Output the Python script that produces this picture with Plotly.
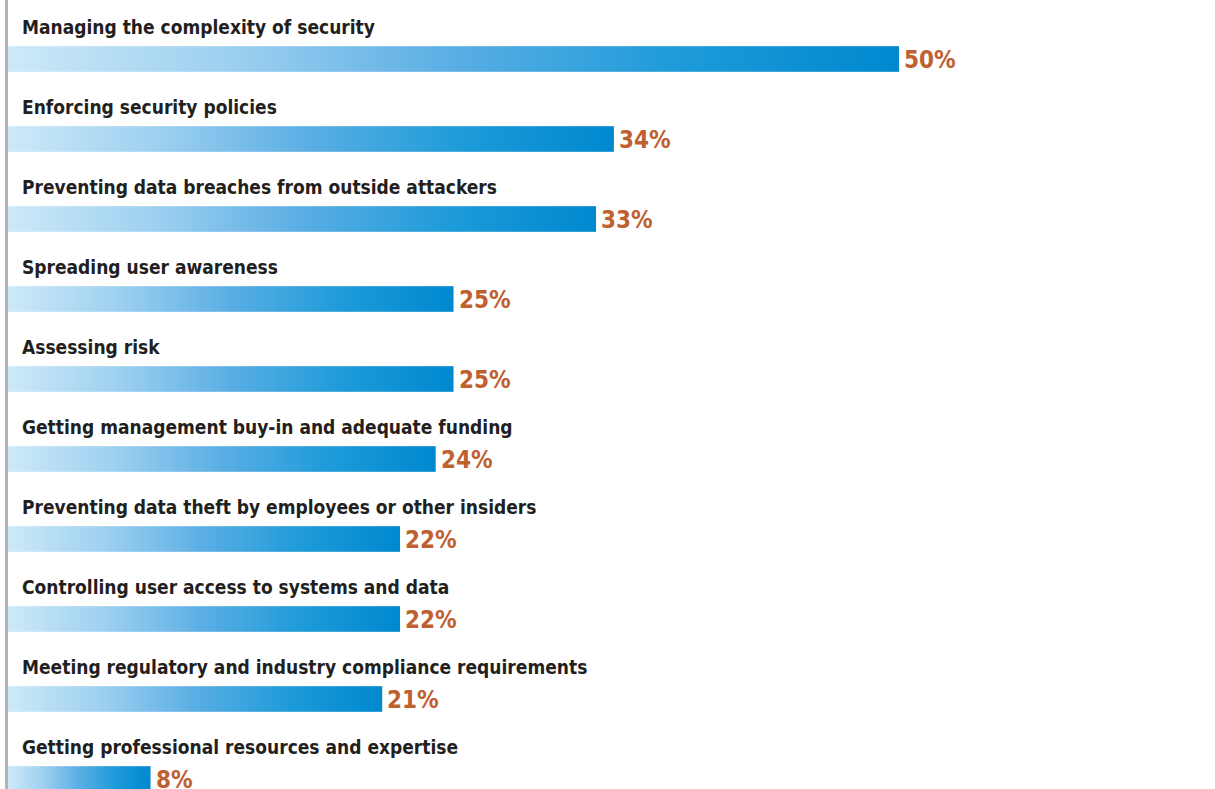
import plotly.graph_objects as go

# Survey results: top information-security challenges
categories = [
    "Managing the complexity of security",
    "Enforcing security policies",
    "Preventing data breaches from outside attackers",
    "Spreading user awareness",
    "Assessing risk",
    "Getting management buy-in and adequate funding",
    "Preventing data theft by employees or other insiders",
    "Controlling user access to systems and data",
    "Meeting regulatory and industry compliance requirements",
    "Getting professional resources and expertise",
]
values = [50, 34, 33, 25, 25, 24, 22, 22, 21, 8]
value_labels = ["50%", "34%", "33%", "25%", "25%", "24%", "22%", "22%", "21%", "8%"]

BAR_HALF = 0.163
LABEL_FONT = "DejaVu Sans Condensed, Liberation Sans Narrow, sans-serif"
VALUE_COLOR = "#bf6030"
BAR_SCALE = [
    [0.0, "#cde9f8"],
    [0.25, "#9dd0f0"],
    [0.5, "#5aaee4"],
    [0.75, "#1e9bd9"],
    [1.0, "#0088cf"],
]

fig = go.Figure()

for i, v in enumerate(values):
    y0, y1 = i - BAR_HALF, i + BAR_HALF
    fig.add_trace(go.Scatter(
        x=[0, v, v, 0, 0],
        y=[y0, y0, y1, y1, y0],
        mode="lines",
        line=dict(width=0),
        fill="toself",
        fillgradient=dict(type="horizontal", colorscale=BAR_SCALE),
        hoverinfo="skip",
        showlegend=False,
    ))
    # thin highlights along the top and bottom edges of each bar
    for ye in (y0, y1):
        fig.add_trace(go.Scatter(
            x=[0, v], y=[ye, ye],
            mode="lines",
            line=dict(color="rgba(255,255,255,0.4)", width=1),
            hoverinfo="skip",
            showlegend=False,
        ))

annotations = []
for i, (cat, v, lab) in enumerate(zip(categories, values, value_labels)):
    annotations.append(dict(
        x=0, y=i - 0.4, xref="x", yref="y",
        text=cat, showarrow=False,
        xanchor="left", yanchor="middle", xshift=12,
        font=dict(family=LABEL_FONT, size=19, color="#231f20", weight="bold"),
    ))
    annotations.append(dict(
        x=v, y=i, xref="x", yref="y",
        text=lab, showarrow=False,
        xanchor="left", yanchor="middle", xshift=3, yshift=-1,
        font=dict(family=LABEL_FONT, size=24, color=VALUE_COLOR, weight="bold"),
    ))

fig.update_layout(
    width=1215, height=789,
    margin=dict(l=8, r=0, t=0, b=0),
    paper_bgcolor="white", plot_bgcolor="white",
    xaxis=dict(range=[0, 1207 / 17.82], visible=False, fixedrange=True),
    yaxis=dict(range=[(789 - 59) / 80, -59 / 80], visible=False, fixedrange=True),
    annotations=annotations,
    shapes=[dict(
        type="line", xref="paper", yref="paper",
        xsizemode="pixel", xanchor=0, x0=-1.5, x1=-1.5, y0=0, y1=1,
        line=dict(color="#b3b3b3", width=3),
    )],
)

fig.write_html("out.html")
